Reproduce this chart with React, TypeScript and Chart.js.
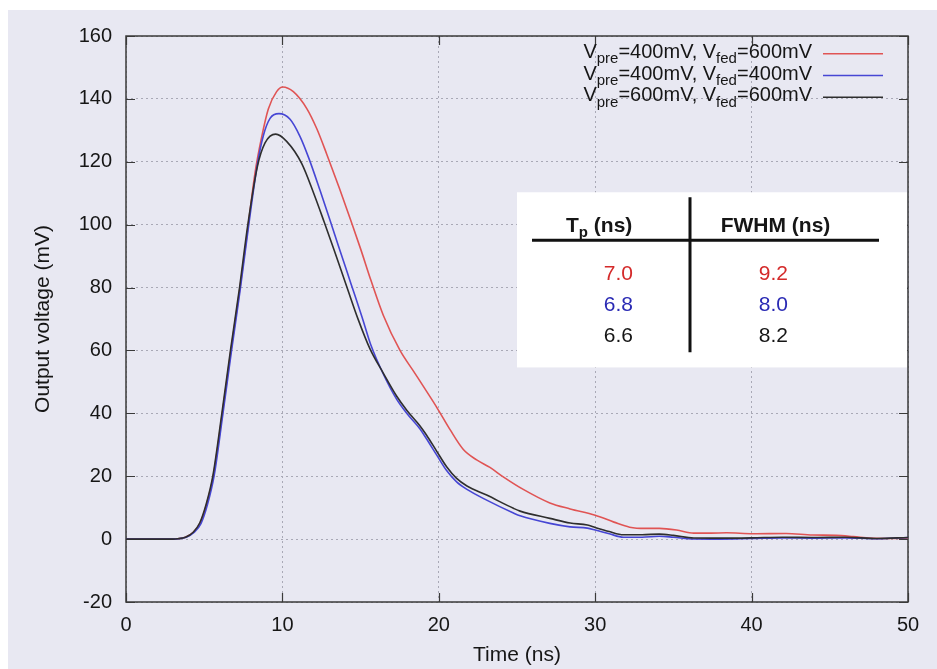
import React, { useEffect, useRef } from 'react';
import { Chart, registerables } from 'chart.js';

Chart.register(...registerables);

const FONT = '"Liberation Sans", Arial, Helvetica, sans-serif';

// ---- data (time in ns, voltage in mV) ----
const redSeries: [number, number][] = [
  [0, 0], [1, 0], [2, 0], [3, 0], [3.3, 0.1], [3.8, 0.6], [4.3, 2.2], [4.75, 5.2], [5.15, 11], [5.58, 20],
  [6.16, 40], [6.71, 60], [7.29, 80], [7.82, 100], [8.25, 116.5], [8.68, 128], [9.1, 136.8], [9.63, 142.3],
  [10.02, 143.8], [10.7, 142.3], [11.55, 137], [12.2, 130.5], [12.83, 122.5], [13.65, 111.5], [14.43, 100.5],
  [15.0, 92.3], [15.66, 82.3], [16.45, 71.2], [17.52, 60], [18.37, 53.5], [19.22, 47], [19.86, 42],
  [20.72, 34.8], [21.57, 28.5], [22.42, 25.2], [23.27, 22.8], [24.12, 19.8], [25.4, 15.8], [27.1, 11.5],
  [28.4, 9.6], [30, 7.6], [31.2, 5.4], [32.2, 3.8], [33.2, 3.4], [34.1, 3.4], [35.2, 2.9], [36.3, 1.9],
  [37.4, 1.9], [38.4, 2.0], [40.1, 1.7], [42.2, 1.8], [43.9, 1.3], [45.4, 1.2], [46.5, 0.8], [47.6, 0.3],
  [48.7, 0.2], [50, 0.4],
];
const blueSeries: [number, number][] = [
  [0, 0], [1, 0], [2, 0], [3, 0], [3.35, 0.1], [3.85, 0.6], [4.35, 2.1], [4.8, 5.0], [5.2, 10.8], [5.63, 20],
  [6.2, 40], [6.75, 60], [7.32, 80], [7.85, 100], [8.41, 119.5], [8.78, 128.3], [9.21, 133.8], [9.78, 135.3],
  [10.49, 133.5], [11.13, 128], [11.7, 121], [12.4, 111], [13.04, 101.5], [13.6, 93], [14.4, 81],
  [15.1, 70.5], [15.65, 61.8], [16.45, 52.5], [17.3, 44.5], [17.95, 40], [18.8, 35], [19.2, 32],
  [19.86, 26.8], [20.5, 21.8], [21.14, 18.2], [21.8, 15.8], [23.06, 12.4], [24.77, 8.3], [25.2, 7.4],
  [27.1, 5.0], [28.4, 3.9], [29.5, 3.5], [30, 2.9], [30.9, 1.7], [31.8, 0.6], [33, 0.6], [34.1, 0.9],
  [35, 0.6], [36.3, 0.05], [38, 0], [40, 0.2], [42, 0.4], [44, 0.3], [46, 0.4], [48, 0.1], [50, 0.5],
];
const blackSeries: [number, number][] = [
  [0, 0], [1, 0], [2, 0], [3, 0], [3.3, 0.1], [3.8, 0.6], [4.3, 2.2], [4.72, 5.2], [5.12, 11], [5.55, 20],
  [6.13, 40], [6.68, 60], [7.26, 80], [7.79, 100], [8.4, 118.5], [8.89, 126], [9.57, 128.8], [10.27, 126.5],
  [11.23, 119.5], [12.0, 110], [12.66, 101], [13.3, 92], [14.1, 80.5], [14.85, 69.8], [15.6, 60.5], [16.45, 52.8],
  [17.3, 45.5], [17.95, 41], [18.8, 36], [19.2, 33.2], [19.86, 28], [20.5, 23], [21.14, 19.3], [21.8, 16.9],
  [23.06, 14], [24.77, 9.8], [25.2, 8.9], [27.1, 6.6], [28.4, 5.1], [29.5, 4.5], [30, 3.7], [30.9, 2.4],
  [31.8, 1.4], [33, 1.4], [34.1, 1.6], [35, 1.2], [36.3, 0.35], [38, 0.3], [40, 0.4], [42, 0.6], [44, 0.5],
  [46, 0.6], [48, 0.2], [50, 0.5],
];

const seriesList = [redSeries, blueSeries, blackSeries];
const lineColors = ['#e05454', '#4646d4', '#2e2e2e'];
const textColors = ['#d42a2a', '#2a2ab4', '#161616'];
const vpreLabels = ['400mV', '400mV', '600mV'];
const vfedLabels = ['600mV', '400mV', '600mV'];
const tpValues = ['7.0', '6.8', '6.6'];
const fwhmValues = ['9.2', '8.0', '8.2'];

const xTickStep = 10;
const yTickStep = 20;

const framePlugin = {
  id: 'frameAndTable',
  beforeDatasetsDraw(chart: any) {
    const { ctx, chartArea: a, scales } = chart;
    const x = scales.x;
    const y = scales.y;
    ctx.save();
    // inward tick marks on all four sides
    ctx.strokeStyle = '#3a3a3a';
    ctx.lineWidth = 1.2;
    ctx.beginPath();
    x.ticks.forEach((t: any) => {
      const px = Math.round(x.getPixelForValue(t.value)) + 0.5;
      ctx.moveTo(px, a.bottom);
      ctx.lineTo(px, a.bottom - 9);
      ctx.moveTo(px, a.top);
      ctx.lineTo(px, a.top + 9);
    });
    y.ticks.forEach((t: any) => {
      const py = Math.round(y.getPixelForValue(t.value)) + 0.5;
      ctx.moveTo(a.left, py);
      ctx.lineTo(a.left + 9, py);
      ctx.moveTo(a.right, py);
      ctx.lineTo(a.right - 9, py);
    });
    ctx.stroke();

    // inset table
    const bl = x.getPixelForValue(25);
    const br = a.right - 1;
    const bt = y.getPixelForValue(110.3);
    const bb = y.getPixelForValue(54.6);
    ctx.fillStyle = '#ffffff';
    ctx.fillRect(bl, bt, br - bl, bb - bt);

    ctx.strokeStyle = '#111';
    ctx.lineWidth = 3;
    ctx.beginPath();
    ctx.moveTo(bl + 15, bt + 48);
    ctx.lineTo(bl + 362, bt + 48);
    ctx.moveTo(bl + 173, bt + 5);
    ctx.lineTo(bl + 173, bt + 160);
    ctx.stroke();

    ctx.fillStyle = '#161616';
    ctx.textBaseline = 'alphabetic';
    ctx.textAlign = 'left';
    ctx.font = `bold 21px ${FONT}`;
    let hx = bl + 49;
    const hy = bt + 39.5;
    ctx.fillText('T', hx, hy);
    hx += ctx.measureText('T').width;
    ctx.font = `bold 15px ${FONT}`;
    ctx.fillText('p', hx, hy + 5);
    hx += ctx.measureText('p').width;
    ctx.font = `bold 21px ${FONT}`;
    ctx.fillText(' (ns)', hx, hy);
    ctx.textAlign = 'center';
    ctx.fillText('FWHM (ns)', bl + 258.5, hy);

    ctx.font = `21px ${FONT}`;
    ctx.textAlign = 'right';
    const rowY = [87.5, 118.5, 149.5];
    tpValues.forEach((v, i) => {
      ctx.fillStyle = textColors[i];
      ctx.fillText(v, bl + 116, bt + rowY[i]);
      ctx.fillText(fwhmValues[i], bl + 271, bt + rowY[i]);
    });

    // plot frame
    ctx.strokeStyle = '#3a3a3a';
    ctx.lineWidth = 1.5;
    ctx.strokeRect(a.left, a.top, a.right - a.left, a.bottom - a.top);
    ctx.restore();
  },
  afterDatasetsDraw(chart: any) {
    const { ctx, chartArea: a } = chart;
    ctx.save();
    const baselines = [21.7, 43.5, 65.3];
    const main = `20px ${FONT}`;
    const sub = `15px ${FONT}`;
    seriesList.forEach((_, i) => {
      const parts: [string, boolean][] = [
        ['V', false], ['pre', true], ['=' + vpreLabels[i] + ', V', false], ['fed', true], ['=' + vfedLabels[i], false],
      ];
      let total = 0;
      parts.forEach(([s, isSub]) => {
        ctx.font = isSub ? sub : main;
        total += ctx.measureText(s).width;
      });
      let tx = a.right - 96 - total;
      const by = a.top + baselines[i];
      ctx.fillStyle = '#161616';
      ctx.textAlign = 'left';
      ctx.textBaseline = 'alphabetic';
      parts.forEach(([s, isSub]) => {
        ctx.font = isSub ? sub : main;
        ctx.fillText(s, tx, isSub ? by + 5.5 : by);
        tx += ctx.measureText(s).width;
      });
      ctx.strokeStyle = lineColors[i];
      ctx.lineWidth = 1.6;
      ctx.beginPath();
      ctx.moveTo(a.right - 85, by - 4);
      ctx.lineTo(a.right - 25, by - 4);
      ctx.stroke();
    });
    ctx.restore();
  },
};

export default function App() {
  const canvasRef = useRef<HTMLCanvasElement | null>(null);

  useEffect(() => {
    if (!canvasRef.current) return;
    Chart.defaults.font.family = FONT;
    const chart = new Chart(canvasRef.current, {
      type: 'line',
      data: {
        datasets: seriesList.map((s, i) => ({
          label: `series${i}`,
          data: s.map(([t, v]) => ({ x: t, y: v })),
          borderColor: lineColors[i],
          borderWidth: 1.6,
          pointRadius: 0,
          fill: false,
          cubicInterpolationMode: 'monotone' as const,
          order: 3 - i,
        })),
      },
      options: {
        animation: false,
        responsive: false,
        devicePixelRatio: 1,
        layout: { padding: { top: 25, right: 29, left: 0, bottom: 0 } },
        plugins: { legend: { display: false }, tooltip: { enabled: false } },
        scales: {
          x: {
            type: 'linear',
            min: 0,
            max: 50,
            afterFit: (scale: any) => { scale.height = 67; },
            ticks: { stepSize: xTickStep, padding: 11, maxRotation: 0, autoSkip: false, color: '#161616', font: { size: 20 } },
            grid: { color: '#a9a9b6', lineWidth: 1, drawTicks: false },
            border: { display: false, dash: [2, 3] },
            title: { display: true, text: 'Time (ns)', color: '#161616', font: { size: 21 }, padding: { top: 0, bottom: 1.4 } },
          },
          y: {
            type: 'linear',
            min: -20,
            max: 160,
            afterFit: (scale: any) => { scale.width = 118; },
            ticks: { stepSize: yTickStep, padding: 14, color: '#161616', font: { size: 20 } },
            grid: { color: '#a9a9b6', lineWidth: 1, drawTicks: false },
            border: { display: false, dash: [2, 3] },
            title: { display: true, text: 'Output voltage (mV)', color: '#161616', font: { size: 21 }, padding: { top: 23, bottom: 0 } },
          },
        },
      },
      plugins: [framePlugin],
    } as any);
    return () => chart.destroy();
  }, []);

  return (
    <div style={{ position: 'absolute', left: 8, top: 10, width: 929, height: 659, background: '#e8e8f2' }}>
      <canvas ref={canvasRef} width={929} height={659} style={{ display: 'block', width: 929, height: 659 }} />
    </div>
  );
}
